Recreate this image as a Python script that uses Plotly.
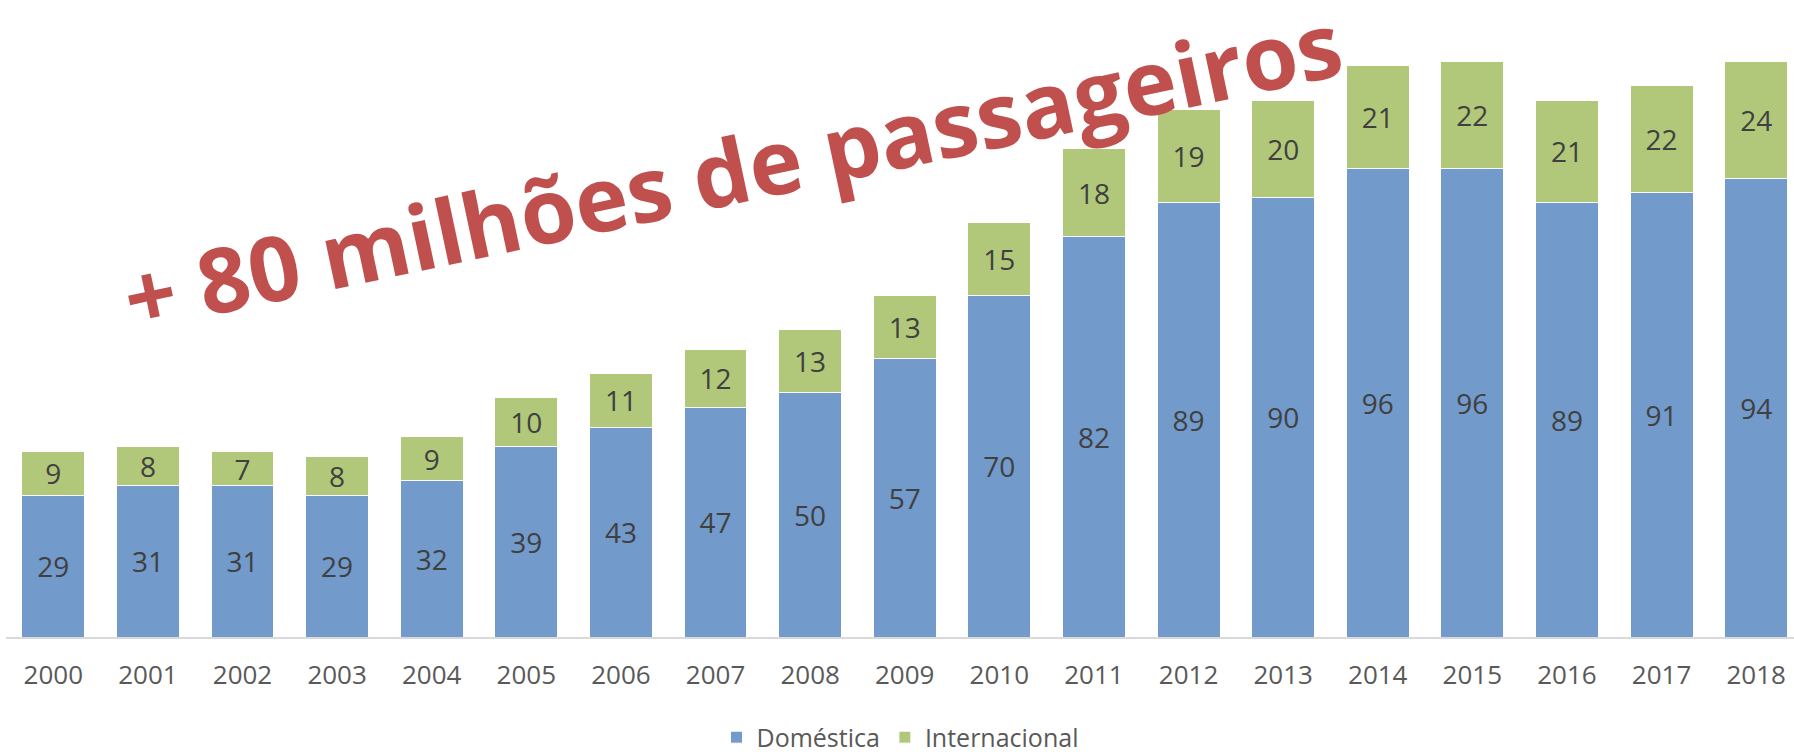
import plotly.graph_objects as go

years = [str(y) for y in range(2000, 2019)]
domestica = [29, 31, 31, 29, 32, 39, 43, 47, 50, 57, 70, 82, 89, 90, 96, 96, 89, 91, 94]
internacional = [9, 8, 7, 8, 9, 10, 11, 12, 13, 13, 15, 18, 19, 20, 21, 22, 21, 22, 24]
title_text = "+ 80 milhões de passageiros"

FONT = "Open Sans"
fig = go.Figure()
fig.add_trace(go.Bar(
    x=years, y=domestica, name="Doméstica",
    marker=dict(color="#729ACB", line=dict(color="#FFFFFF", width=1)),
    text=[str(v) for v in domestica], textposition="inside", textangle=0,
    insidetextanchor="middle", constraintext="none",
    textfont=dict(family=FONT, size=28, color="#404040"),
))
fig.add_trace(go.Bar(
    x=years, y=internacional, name="Internacional",
    marker=dict(color="#B1C87A", line=dict(color="#FFFFFF", width=1)),
    text=[str(v) for v in internacional], textposition="inside", textangle=0,
    insidetextanchor="middle", constraintext="none",
    textfont=dict(family=FONT, size=28, color="#404040"),
))

fig.update_layout(
    barmode="stack",
    bargap=0.335,
    width=1794, height=754,
    margin=dict(l=6, r=0, t=0, b=117),
    plot_bgcolor="white", paper_bgcolor="white",
    font=dict(family=FONT, color="#595959"),
    showlegend=True,
    legend=dict(orientation="h", x=0.5, xanchor="center",
                yref="container", y=0.022, yanchor="middle",
                font=dict(family=FONT, size=25, color="#595959"), traceorder="normal",
                itemwidth=30),
    xaxis=dict(type="category", range=[-0.5, 18.4], showline=True, linecolor="#D9D9D9",
               linewidth=1.5, showgrid=False, ticks="", ticklabelstandoff=14,
               automargin=False,
               tickfont=dict(family=FONT, size=26, color="#595959")),
    yaxis=dict(range=[0, 130.5], visible=False, showgrid=False, automargin=False),
    annotations=[dict(
        text=title_text, xref="paper", yref="paper", x=0.406, y=0.735,
        xanchor="center", yanchor="middle",
        showarrow=False, textangle=-12,
        font=dict(family=FONT, size=90, color="#C0504D", weight="bold"),
    )],
)

fig.write_html("out.html", config={"displayModeBar": False},
               post_script="document.body.style.margin='0px';")
